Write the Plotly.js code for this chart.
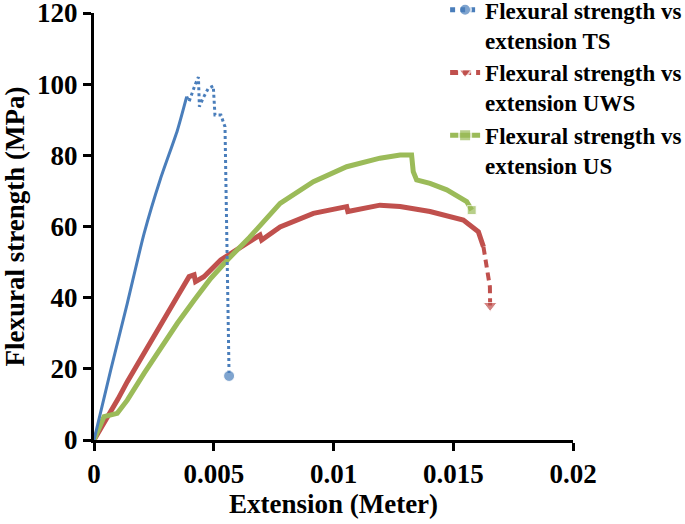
<!DOCTYPE html>
<html>
<head>
<meta charset="utf-8">
<script src="https://cdn.plot.ly/plotly-3.0.1.min.js"></script>
<style>html,body{margin:0;padding:0;background:#fff;}#chart{width:685px;height:524px;}</style>
</head>
<body>
<div id="chart"></div>
<script>
// Flexural strength (MPa) vs extension (m)
const tsRiseX = [0, 0.0007, 0.00139, 0.00209, 0.00278, 0.00348, 0.00387];
const tsRiseY = [0, 19.7, 38.4, 58, 73.5, 87, 96.5];
const tsFallX = [0.00387, 0.00397, 0.00422, 0.00436, 0.0044, 0.00455, 0.00477, 0.00498, 0.00505, 0.0053, 0.00547, 0.00552, 0.00557, 0.00562, 0.00564];
const tsFallY = [96.5, 95.1, 99.8, 102.0, 93.7, 96, 98.8, 99.5, 91.3, 91.3, 88, 70, 45, 25, 18];

const uwsX = [0, 0.0003, 0.0007, 0.001, 0.00139, 0.00209, 0.00278, 0.00348, 0.00397, 0.00418, 0.00424, 0.00459, 0.00529, 0.0060, 0.00693, 0.0070, 0.00777, 0.00916, 0.01055, 0.0106, 0.01194, 0.01278, 0.01403, 0.01542, 0.01605, 0.01626];
const uwsY = [0, 3.5, 7.5, 11.5, 16.4, 24.6, 32.5, 40.3, 45.9, 46.4, 44.5, 45.9, 50.6, 53.5, 57.6, 56.2, 59.9, 63.7, 65.6, 64.2, 66, 65.6, 64.2, 61.8, 58.5, 54.3];
const uwsTailX = [0.01626, 0.0164, 0.01653, 0.01654];
const uwsTailY = [54.3, 48.7, 43.1, 37.8];

const usX = [0, 0.0002, 0.00042, 0.00097, 0.00139, 0.00209, 0.00278, 0.00348, 0.00418, 0.00487, 0.00557, 0.0065, 0.00777, 0.00916, 0.01055, 0.01194, 0.01278, 0.01326, 0.01333, 0.01347, 0.01403, 0.01473, 0.01556, 0.01577];
const usY = [0, 3, 6.6, 7.5, 11.2, 18.7, 25.8, 32.8, 39.3, 45.4, 50.6, 57, 66.5, 72.6, 76.8, 79.2, 80.1, 80.1, 75.4, 73.1, 72.1, 70.3, 67, 64.6];

const names = ['Flexural strength vs<br>extension TS', 'Flexural strength vs<br>extension UWS', 'Flexural strength vs<br>extension US'];
const xTicks = [0, 0.005, 0.01, 0.015, 0.02];
const xTickText = ['0', '0.005', '0.01', '0.015', '0.02'];
const yTicks = [0, 20, 40, 60, 80, 100, 120];

const BLUE = '#4A7EBB', RED = '#C0504D', GREEN = '#9BBB59';
function endSizes(n, s) { return Array.from({length: n}, (_, i) => i === n - 1 ? s : 0); }

const traces = [
  {x: uwsX, y: uwsY, mode: 'lines', line: {color: RED, width: 5}, showlegend: false, hoverinfo: 'skip'},
  {x: uwsTailX, y: uwsTailY, mode: 'lines+markers', name: names[1], legendrank: 2,
   line: {color: RED, width: 4, dash: '8px,5px'},
   marker: {symbol: 'triangle-down', color: RED, size: endSizes(uwsTailX.length, 12)}},
  {x: usX, y: usY, mode: 'lines+markers', name: names[2], legendrank: 3,
   line: {color: GREEN, width: 5},
   marker: {symbol: 'square', color: GREEN, size: endSizes(usX.length, 9)}},
  {x: tsRiseX, y: tsRiseY, mode: 'lines', line: {color: BLUE, width: 3, shape: 'spline', smoothing: 0.6}, showlegend: false, hoverinfo: 'skip'},
  {x: tsFallX, y: tsFallY, mode: 'lines+markers', name: names[0], legendrank: 1,
   line: {color: BLUE, width: 3, dash: 'dot'},
   marker: {symbol: 'circle', color: BLUE, size: endSizes(tsFallX.length, 11)}}
];

const font = {family: '"Liberation Serif", "Times New Roman", serif', color: '#000'};
const layout = {
  width: 685, height: 524,
  margin: {l: 94, r: 112, t: 13, b: 84, autoexpand: false},
  paper_bgcolor: '#fff', plot_bgcolor: '#fff',
  font: Object.assign({size: 23, weight: 'bold'}, font),
  showlegend: true,
  legend: {x: 0.733, y: 1.058, xanchor: 'left', yanchor: 'top', bgcolor: 'rgba(0,0,0,0)', valign: 'top',
           font: Object.assign({size: 23, weight: 'bold'}, font), tracegroupgap: 4, itemsizing: 'constant'},
  xaxis: {range: [0, 0.02], tickvals: xTicks, ticktext: xTickText, showgrid: false, zeroline: false,
          showline: true, linecolor: '#000', linewidth: 3, ticks: 'outside', ticklen: 8, tickwidth: 3, tickcolor: '#000',
          ticklabeloverflow: 'allow',
          tickfont: Object.assign({size: 27, weight: 'bold'}, font),
          title: {text: 'Extension (Meter)', font: Object.assign({size: 27, weight: 'bold'}, font), standoff: 4}},
  yaxis: {range: [0, 120], tickvals: yTicks, showgrid: false, zeroline: false,
          showline: true, linecolor: '#000', linewidth: 3, ticks: 'outside', ticklen: 8, tickwidth: 3, tickcolor: '#000',
          ticklabeloverflow: 'allow',
          tickfont: Object.assign({size: 27, weight: 'bold'}, font),
          title: {text: 'Flexural strength (MPa)', font: Object.assign({size: 27, weight: 'bold'}, font), standoff: 6}}
};
Plotly.newPlot('chart', traces, layout, {displayModeBar: false, staticPlot: true});
</script>
</body>
</html>
